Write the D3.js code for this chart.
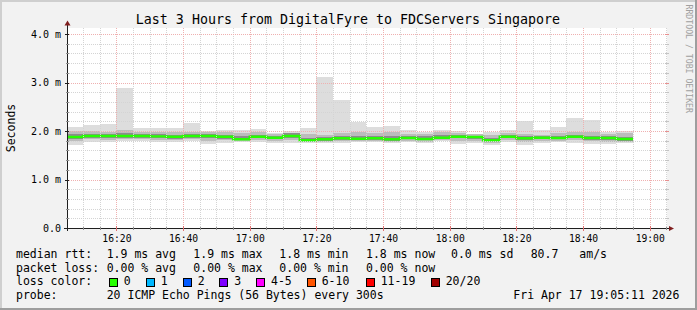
<!DOCTYPE html>
<html><head><meta charset="utf-8">
<script src="https://cdn.jsdelivr.net/npm/d3@7"></script>
<style>
html,body{margin:0;padding:0;background:#f2f2f2;}
svg{display:block;}
text{font-family:"DejaVu Sans Mono",monospace;fill:#000;}
</style></head>
<body>
<svg id="c" width="697" height="310"></svg>
<script>
// ---------- data (values in milliseconds) ----------
const title = "Last 3 Hours from DigitalFyre to FDCServers Singapore";
const startTime = new Date(2026, 3, 17, 16, 5, 11);
const endTime   = new Date(2026, 3, 17, 19, 5, 11);
const firstSlot = new Date(2026, 3, 17, 16, 5, 0);   // first 5-minute sample
const stepMinutes = 5;

const medianRtt = [1.876,1.897,1.897,1.897,1.897,1.890,1.880,1.897,1.897,1.880,1.830,1.880,1.860,1.897,1.810,1.830,1.850,1.840,1.850,1.830,1.855,1.835,1.860,1.880,1.876,1.810,1.880,1.850,1.860,1.855,1.880,1.855,1.855,1.835];
const smokeMax  = [2.08,2.12,2.14,2.89,2.06,2.06,2.06,2.17,1.99,2.02,2.02,2.04,1.95,2.00,2.06,3.12,2.64,2.18,2.09,2.10,2.02,1.97,2.02,2.00,1.93,1.97,2.02,2.21,2.02,2.09,2.27,2.23,1.97,2.00];
const smokeHi   = [1.99,2.00,1.98,2.02,1.97,1.97,1.97,1.98,1.97,1.97,1.95,1.97,1.93,1.96,1.94,1.92,1.96,1.97,1.95,1.97,1.94,1.94,1.97,1.96,1.93,1.92,1.95,1.94,1.92,1.95,1.98,1.97,1.93,1.95];
const smokeCoreHi=[1.93,1.94,1.94,1.96,1.93,1.93,1.92,1.93,1.94,1.92,1.90,1.92,1.90,1.95,1.86,1.87,1.90,1.90,1.89,1.89,1.90,1.90,1.91,1.92,1.90,1.86,1.92,1.89,1.89,1.90,1.92,1.90,1.90,1.88];
const smokeCoreLo=[1.84,1.86,1.85,1.86,1.86,1.85,1.84,1.86,1.86,1.84,1.81,1.85,1.83,1.86,1.79,1.80,1.81,1.82,1.82,1.80,1.83,1.81,1.84,1.85,1.84,1.79,1.85,1.81,1.83,1.83,1.85,1.82,1.81,1.80];
const smokeLo   = [1.80,1.84,1.82,1.83,1.83,1.82,1.81,1.83,1.80,1.81,1.79,1.81,1.80,1.82,1.77,1.78,1.79,1.80,1.79,1.78,1.80,1.78,1.81,1.80,1.80,1.76,1.82,1.78,1.80,1.80,1.81,1.79,1.78,1.78];
const smokeMin  = [1.72,1.78,1.78,1.80,1.79,1.78,1.78,1.79,1.73,1.76,1.78,1.78,1.75,1.76,1.75,1.75,1.76,1.78,1.77,1.76,1.78,1.76,1.79,1.74,1.76,1.71,1.77,1.72,1.76,1.77,1.75,1.74,1.73,1.75];

const yTickValues = [0, 1, 2, 3, 4];
const yTickLabels = ["0.0", "1.0 m", "2.0 m", "3.0 m", "4.0 m"];
const xTickLabels = ["16:20","16:40","17:00","17:20","17:40","18:00","18:20","18:40","19:00"];

const lossLabels = ["0","1","2","3","4-5","6-10","11-19","20/20"];
const lossColors = ["#26ff00","#00b8ff","#0059ff","#7e00ff","#ff00ff","#ff5500","#ff0000","#a10000"];

const legendRows = [
  ["median rtt:", "1.9 ms avg", "1.9 ms max", "1.8 ms min", "1.8 ms now", "0.0 ms sd", "80.7", "am/s"],
  ["packet loss:", "0.00 % avg", "0.00 % max", "0.00 % min", "0.00 % now"],
];
const probeLabel = "probe:";
const probeText = "20 ICMP Echo Pings (56 Bytes) every 300s";
const stampText = "Fri Apr 17 19:05:11 2026";
const watermark = "RRDTOOL / TOBI OETIKER";
const yAxisTitle = "Seconds";

// ---------- layout ----------
const W = 697, H = 310;
const L = 67, R = 667, T = 28, B = 228;
const svg = d3.select("#c");

svg.append("rect").attr("width", W).attr("height", H).attr("fill", "#f2f2f2");
// 3D frame
svg.append("rect").attr("x",0).attr("y",0).attr("width",W).attr("height",2).attr("fill","#cfcfcf");
svg.append("rect").attr("x",0).attr("y",0).attr("width",2).attr("height",H).attr("fill","#cfcfcf");
svg.append("rect").attr("x",W-2).attr("y",0).attr("width",2).attr("height",H).attr("fill","#9e9e9e");
svg.append("rect").attr("x",0).attr("y",H-2).attr("width",W).attr("height",2).attr("fill","#9e9e9e");

// canvas
svg.append("rect").attr("x",L).attr("y",T).attr("width",R-L).attr("height",B-T).attr("fill","#ffffff");

const x = d3.scaleTime().domain([startTime, endTime]).range([L, R]);
const y = d3.scaleLinear().domain([0, 4]).range([B, 34]);

svg.append("defs").append("clipPath").attr("id","clip")
  .append("rect").attr("x",L).attr("y",T).attr("width",R-L).attr("height",B-T);

const slots = medianRtt.map((m, i) => {
  const t0 = d3.timeMinute.offset(firstSlot, i * stepMinutes);
  const t1 = d3.timeMinute.offset(firstSlot, (i + 1) * stepMinutes);
  return {t0, t1, m, max: smokeMax[i], hi: smokeHi[i], chi: smokeCoreHi[i], clo: smokeCoreLo[i], lo: smokeLo[i], min: smokeMin[i]};
});

const plot = svg.append("g").attr("clip-path","url(#clip)");
const bands = [
  ["min","max","#dddddd"],
  ["lo","hi","#bcbcbc"],
  ["clo","chi","#8c8c8c"],
];
bands.forEach(([a, b, col]) => {
  plot.append("g").selectAll("rect").data(slots).join("rect")
    .attr("x", d => x(d.t0))
    .attr("width", d => x(d.t1) - x(d.t0))
    .attr("y", d => y(d[b]))
    .attr("height", d => y(d[a]) - y(d[b]))
    .attr("fill", col)
    .attr("shape-rendering","crispEdges");
});

// grid
const grid = svg.append("g").attr("shape-rendering","crispEdges");
const minorY = d3.range(1, 21).map(k => k * 0.2).filter(v => Math.abs(v - Math.round(v)) > 1e-6);
grid.selectAll("line.hm").data(minorY).join("line")
  .attr("x1", L).attr("x2", R).attr("y1", d => Math.round(y(d)) + 0.5).attr("y2", d => Math.round(y(d)) + 0.5)
  .attr("stroke", "#d4d4d4").attr("stroke-dasharray","1,1");
const minorX = d3.timeMinute.every(5).range(d3.timeMinute.offset(startTime, 1), d3.timeSecond.offset(endTime, 1));
grid.selectAll("line.vm").data(minorX.filter(t => t.getMinutes() % 20 !== 0)).join("line")
  .attr("y1", T).attr("y2", B).attr("x1", d => Math.round(x(d)) + 0.5).attr("x2", d => Math.round(x(d)) + 0.5)
  .attr("stroke", "#d4d4d4").attr("stroke-dasharray","1,1");
const majorY = yTickValues.filter(v => v > 0);
grid.selectAll("line.hM").data(majorY).join("line")
  .attr("x1", L).attr("x2", R).attr("y1", d => Math.round(y(d)) + 0.5).attr("y2", d => Math.round(y(d)) + 0.5)
  .attr("stroke", "#efb0b0").attr("stroke-dasharray","1,1");
const majorX = xTickLabels.map(s => { const [h, m] = s.split(":").map(Number); return new Date(2026, 3, 17, h, m, 0); });
grid.selectAll("line.vM").data(majorX).join("line")
  .attr("y1", T).attr("y2", B).attr("x1", d => Math.round(x(d)) + 0.5).attr("x2", d => Math.round(x(d)) + 0.5)
  .attr("stroke", "#efb0b0").attr("stroke-dasharray","1,1");

// right-side ticks
grid.selectAll("line.rt").data(minorY).join("line")
  .attr("x1", R - 2).attr("x2", R + 2).attr("y1", d => Math.round(y(d)) + 0.5).attr("y2", d => Math.round(y(d)) + 0.5)
  .attr("stroke", "#c4c4c4");
grid.selectAll("line.rM").data(majorY).join("line")
  .attr("x1", R - 2).attr("x2", R + 2).attr("y1", d => Math.round(y(d)) + 0.5).attr("y2", d => Math.round(y(d)) + 0.5)
  .attr("stroke", "#e89090");

// median line (loss 0 colour)
const line = d3.line().x(d => d[0]).y(d => d[1]);
const pts = [];
slots.forEach(d => { pts.push([x(d.t0), y(d.m)]); pts.push([x(d.t1), y(d.m)]); });
plot.append("path").attr("d", line(pts)).attr("fill","none")
  .attr("stroke", lossColors[0]).attr("stroke-width", 2.4);

// axes
const ax = svg.append("g");
ax.append("line").attr("x1", L + 0.5).attr("x2", L + 0.5).attr("y1", B + 3).attr("y2", 24)
  .attr("stroke", "#1f1f1f");
ax.append("path").attr("d", `M${L - 2.5},25.5 L${L + 3.5},25.5 L${L + 0.5},20.5 Z`).attr("fill", "#801f1f");
ax.append("line").attr("x1", L - 3).attr("x2", R + 3).attr("y1", B + 0.5).attr("y2", B + 0.5)
  .attr("stroke", "#1f1f1f");
ax.append("path").attr("d", `M${R + 2},${B - 2} L${R + 2},${B + 3} L${R + 7},${B + 0.5} Z`).attr("fill", "#801f1f");
// y ticks
ax.selectAll("line.yt").data(majorY).join("line")
  .attr("x1", L - 2).attr("x2", L + 2).attr("y1", d => Math.round(y(d)) + 0.5).attr("y2", d => Math.round(y(d)) + 0.5)
  .attr("stroke", "#1f1f1f");
ax.selectAll("line.ytm").data(minorY).join("line")
  .attr("x1", L - 1).attr("x2", L + 2).attr("y1", d => Math.round(y(d)) + 0.5).attr("y2", d => Math.round(y(d)) + 0.5)
  .attr("stroke", "#8f8f8f");
// x ticks
ax.selectAll("line.xt").data(minorX).join("line")
  .attr("x1", d => Math.round(x(d)) + 0.5).attr("x2", d => Math.round(x(d)) + 0.5)
  .attr("y1", B - 1).attr("y2", B + 2).attr("stroke", "#8f8f8f");
ax.selectAll("line.xM").data(majorX).join("line")
  .attr("x1", d => Math.round(x(d)) + 0.5).attr("x2", d => Math.round(x(d)) + 0.5)
  .attr("y1", B - 2).attr("y2", B + 3).attr("stroke", "#e07070");

// tick labels
svg.append("g").selectAll("text").data(yTickValues).join("text")
  .attr("x", 61).attr("y", d => y(d) + 3.7).attr("text-anchor","end")
  .style("font-size","10px").text((d, i) => yTickLabels[i]);
svg.append("g").selectAll("text").data(majorX).join("text")
  .attr("x", d => x(d) + 0.5).attr("y", 241.5).attr("text-anchor","middle")
  .style("font-size","9.7px").text((d, i) => xTickLabels[i]);

// title
svg.append("text").attr("x", 348).attr("y", 24).attr("text-anchor","middle")
  .style("font-size","13.3px").text(title);
// y axis title
svg.append("text").attr("transform","translate(15,128) rotate(-90)").attr("text-anchor","middle")
  .style("font-size","11.5px").text(yAxisTitle);
// watermark
svg.append("text").attr("transform","translate(685.5,4.5) rotate(90)")
  .style("font-size","8.2px").style("fill","#a0a0a0").text(watermark);

// legend
const fs = "11.5px";
const rowY = [258, 271.7, 285.4, 299];
const colX1 = [16, 106.7, 193.3, 279.3, 366, 451, 530.7, 579.3];
legendRows.forEach((row, r) => {
  row.forEach((s, i) => {
    svg.append("text").attr("x", colX1[i]).attr("y", rowY[r]).style("font-size", fs)
      .attr("xml:space","preserve").text(s);
  });
});
svg.append("text").attr("x", 16).attr("y", rowY[2]).style("font-size", fs).text("loss color:");
const boxX = [108.7, 145.7, 182.7, 219.3, 256, 306.7, 365.7, 430.7];
lossLabels.forEach((lab, i) => {
  svg.append("rect").attr("x", Math.round(boxX[i]) + 0.5).attr("y", 278.5).attr("width", 8).attr("height", 8)
    .attr("fill", lossColors[i]).attr("stroke", "#000").attr("stroke-width", 1);
  svg.append("text").attr("x", boxX[i] + 15).attr("y", rowY[2]).style("font-size", fs).text(lab);
});
svg.append("text").attr("x", 16).attr("y", rowY[3]).style("font-size", fs).text(probeLabel);
svg.append("text").attr("x", 106.7).attr("y", rowY[3]).style("font-size", fs).text(probeText);
svg.append("text").attr("x", 513.3).attr("y", rowY[3]).style("font-size", fs).text(stampText);
</script>
</body></html>
